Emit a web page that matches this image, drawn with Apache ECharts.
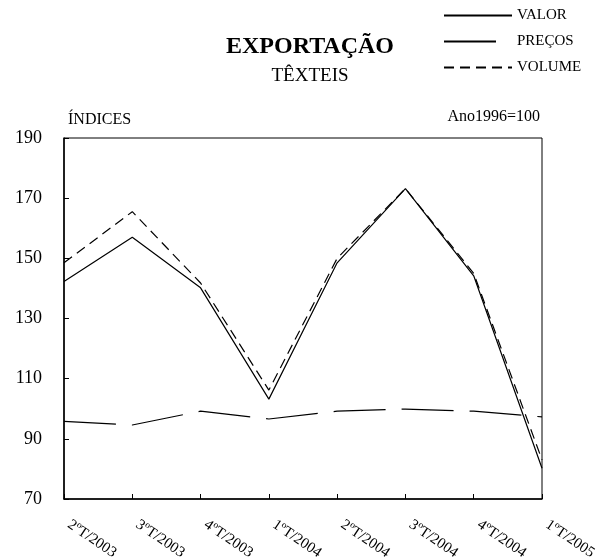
<!DOCTYPE html>
<html>
<head>
<meta charset="utf-8">
<script src="https://cdn.jsdelivr.net/npm/echarts@6/dist/echarts.min.js"></script>
<style>
html,body{margin:0;padding:0;background:#fff;}
#chart{width:603px;height:560px;}
</style>
</head>
<body>
<div id="chart"></div>
<script>
var categories = ['2ºT/2003','3ºT/2003','4ºT/2003','1ºT/2004','2ºT/2004','3ºT/2004','4ºT/2004','1ºT/2005'];
var valor   = [142.3, 157.0, 140.2, 103.2, 148.5, 173.2, 144.2, 80.2];
var precos  = [95.8, 94.6, 99.2, 96.6, 99.2, 99.9, 99.2, 97.3];
var volume  = [148.5, 165.5, 141.8, 106.2, 150.0, 173.2, 145.0, 83.0];
var yTicks  = {min: 70, max: 190, interval: 20};

var FONT = '"Liberation Serif", "Times New Roman", serif';
var chart = echarts.init(document.getElementById('chart'));
chart.setOption({
  backgroundColor: '#fff',
  animation: false,
  title: {
    text: 'EXPORTAÇÃO',
    subtext: 'TÊXTEIS',
    left: 305,
    textAlign: 'center',
    top: 30,
    itemGap: 8,
    textStyle: {fontFamily: FONT, fontSize: 24, fontWeight: 'bold', color: '#000'},
    subtextStyle: {fontFamily: FONT, fontSize: 19, color: '#000'}
  },
  legend: {
    orient: 'vertical',
    left: 438,
    top: 3,
    itemWidth: 68,
    itemHeight: 14,
    itemGap: 11,
    itemStyle: {opacity: 0},
    textStyle: {fontFamily: FONT, fontSize: 15, color: '#000'},
    data: ['VALOR', 'PREÇOS', 'VOLUME']
  },
  grid: {
    left: 64, right: 61, top: 138, bottom: 61,
    outerBoundsMode: 'none',
    containLabel: false,
    show: true, borderColor: '#000', borderWidth: 1, backgroundColor: 'transparent'
  },
  graphic: [{
    type: 'text',
    right: 63,
    top: 109,
    style: {text: 'Ano1996=100', font: '16px ' + FONT, fill: '#000'}
  }],
  xAxis: {
    type: 'category',
    data: categories,
    boundaryGap: false,
    axisLine: {lineStyle: {color: '#000', width: 1.5}},
    axisTick: {inside: true, length: 5, lineStyle: {color: '#000'}},
    axisLabel: {rotate: -34, margin: 21, padding: [0, 0, 0, 6], fontFamily: FONT, fontSize: 15, color: '#000'},
    splitLine: {show: false}
  },
  yAxis: {
    type: 'value',
    min: yTicks.min, max: yTicks.max, interval: yTicks.interval,
    name: 'ÍNDICES',
    nameLocation: 'end',
    nameGap: 10,
    nameTextStyle: {fontFamily: FONT, fontSize: 16, color: '#000', align: 'left', padding: [0, 0, 0, 4]},
    axisLine: {show: true, lineStyle: {color: '#000', width: 1.5}},
    axisTick: {show: true, inside: true, length: 5, lineStyle: {color: '#000'}},
    axisLabel: {margin: 22, fontFamily: FONT, fontSize: 18, color: '#000'},
    splitLine: {show: false}
  },
  series: [
    {name: 'VALOR', type: 'line', data: valor, symbol: 'none',
     lineStyle: {color: '#000', width: 1.2, type: 'solid'}, itemStyle: {color: '#000'}},
    {name: 'PREÇOS', type: 'line', data: precos, symbol: 'none',
     lineStyle: {color: '#000', width: 1.2, type: [52, 16]}, itemStyle: {color: '#000'}},
    {name: 'VOLUME', type: 'line', data: volume, symbol: 'none',
     lineStyle: {color: '#000', width: 1.2, type: [10, 6]}, itemStyle: {color: '#000'}}
  ]
});
</script>
</body>
</html>
